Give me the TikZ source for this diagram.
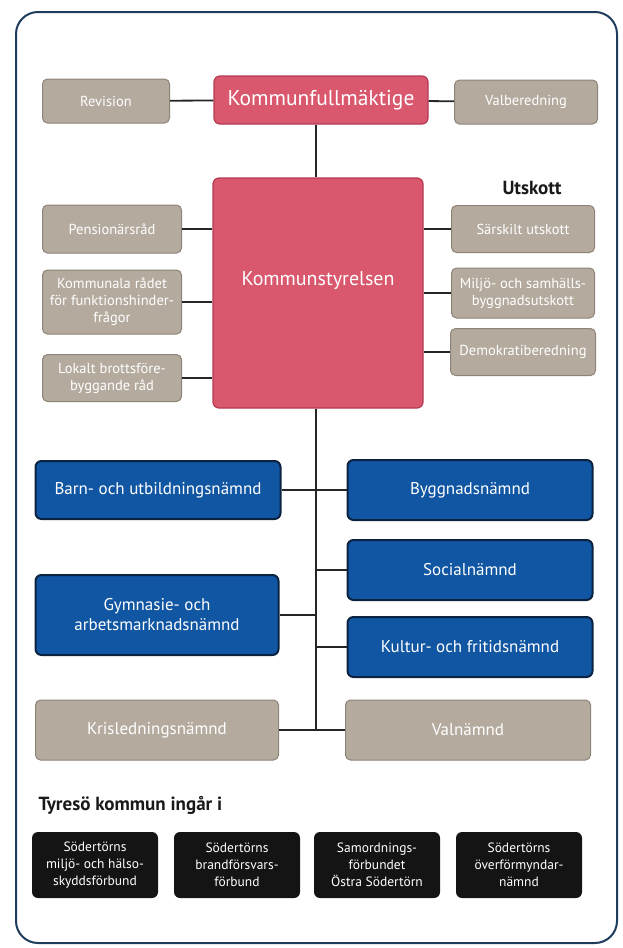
\documentclass[tikz,border=0pt]{standalone}
\usepackage{fontspec}
\setmainfont{PT Sans}
\definecolor{boxgray}{HTML}{B4AA9E}
\definecolor{boxgrayline}{HTML}{8E8377}
\definecolor{kfpink}{HTML}{D9586E}
\definecolor{kfpinkline}{HTML}{B43A52}
\definecolor{nmdblue}{HTML}{1156A2}
\definecolor{nmdblueline}{HTML}{0B2340}
\definecolor{frameblue}{HTML}{1E3D5C}
\begin{document}
\begin{tikzpicture}[x=1pt,y=-1pt,
    graybox/.style={shape=rectangle, rounded corners=5pt, fill=boxgray, draw=boxgrayline, line width=1pt, text=white, align=center, inner sep=2pt, font=\fontsize{14.5}{17}\selectfont},
    pinkbox/.style={shape=rectangle, rounded corners=6pt, fill=kfpink, draw=kfpinkline, line width=1.2pt, text=white, align=center, inner sep=2pt},
    bluebox/.style={shape=rectangle, rounded corners=6pt, fill=nmdblue, draw=nmdblueline, line width=2pt, text=white, align=center, inner sep=2pt, minimum width=245pt, font=\fontsize{17}{20}\selectfont},
    blackbox/.style={shape=rectangle, rounded corners=6pt, fill=black!92, text=white, align=center, inner sep=2pt, minimum width=126pt, minimum height=66pt, font=\fontsize{13.5}{17}\selectfont},
    heading/.style={font=\fontsize{19}{21}\selectfont\bfseries, text=black!90},
    link/.style={-, line width=1.8pt, black!85}]
\useasboundingbox (0,0) rectangle (623,948);
\draw[frameblue, line width=2pt, rounded corners=22pt] (16,12) rectangle (617,943);

% fullmaktige row
\node[graybox, minimum width=127pt, minimum height=44pt] (rev) at (106,101) {Revision};
\node[pinkbox, minimum width=214pt, minimum height=48pt, font=\fontsize{21.5}{24}\selectfont] (kf) at (321,100) {Kommunfullmäktige};
\node[graybox, minimum width=143pt, minimum height=44pt] (valb) at (526,102) {Valberedning};

% kommunstyrelsen with councils and committees
\node[pinkbox, minimum width=210pt, minimum height=230pt, text depth=30pt, font=\fontsize{20}{22}\selectfont] (ks) at (318,293) {Kommunstyrelsen};
\node[graybox, minimum width=139pt, minimum height=48pt] (pens) at (112,229) {Pensionärsråd};
\node[graybox, minimum width=139pt, minimum height=64pt] (fhr) at (112,302) {Kommunala rådet\\för funktionshinder-\\frågor};
\node[graybox, minimum width=139pt, minimum height=47pt] (brott) at (112,378) {Lokalt brottsföre-\\byggande råd};
\node[heading] (utsk) at (532,188) {Utskott};
\node[graybox, minimum width=143pt, minimum height=47pt] (sarsk) at (523,229) {Särskilt utskott};
\node[graybox, minimum width=143pt, minimum height=50pt] (miljo) at (523,293) {Miljö- och samhälls-\\byggnadsutskott};
\node[graybox, minimum width=145pt, minimum height=47pt] (demo) at (523,352) {Demokratiberedning};

% namnder
\node[bluebox, minimum height=58pt] (barn) at (158,490) {Barn- och utbildningsnämnd};
\node[bluebox, minimum height=60pt] (bygg) at (470,490) {Byggnadsnämnd};
\node[bluebox, minimum height=60pt] (soc) at (470,570) {Socialnämnd};
\node[bluebox, minimum height=80pt, minimum width=243pt] (gym) at (157,615) {Gymnasie- och\\arbetsmarknadsnämnd};
\node[bluebox, minimum height=60pt] (kult) at (470,647) {Kultur- och fritidsnämnd};
\node[graybox, minimum width=243pt, minimum height=60pt, font=\fontsize{17}{20}\selectfont] (kris) at (157,730) {Krisledningsnämnd};
\node[graybox, minimum width=245pt, minimum height=60pt, font=\fontsize{17}{20}\selectfont] (valn) at (468,730) {Valnämnd};
\coordinate (trunk) at (316,730);

% samverkan
\node[heading, anchor=west] (ingar) at (35,805) {Tyresö kommun ingår i};
\node[blackbox] (smohf) at (95,865) {Södertörns\\miljö- och hälso-\\skyddsförbund};
\node[blackbox] (sbf) at (237,865) {Södertörns\\brandförsvars-\\förbund};
\node[blackbox] (samo) at (377,865) {Samordnings-\\förbundet\\Östra Södertörn};
\node[blackbox] (sofn) at (519,865) {Södertörns\\överförmyndar-\\nämnd};

\path [link] (rev) edge (kf);
\path [link] (kf) edge (valb);
\path [link] (kf.south -| trunk) edge (ks.north -| trunk);
\path [link] (pens) edge (pens -| ks.west);
\path [link] (fhr) edge (fhr -| ks.west);
\path [link] (brott) edge (brott -| ks.west);
\path [link] (sarsk) edge (sarsk -| ks.east);
\path [link] (miljo) edge (miljo -| ks.east);
\path [link] (demo) edge (demo -| ks.east);
\path [link] (ks.south -| trunk) edge (trunk);
\path [link] (barn) edge (bygg);
\path [link] (soc) edge (soc -| trunk);
\path [link] (gym) edge (gym -| trunk);
\path [link] (kult) edge (kult -| trunk);
\path [link] (kris) edge (valn);
\end{tikzpicture}
\end{document}
